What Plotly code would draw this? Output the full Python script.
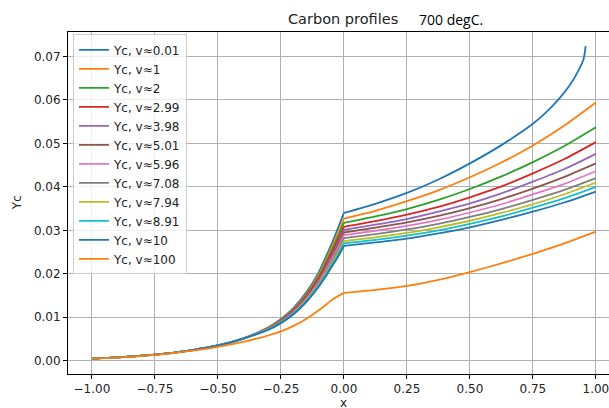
import plotly.graph_objects as go

# ---- data ----
X_LEFT = [-1.0, -0.9, -0.8, -0.7, -0.6, -0.5, -0.4, -0.3, -0.25, -0.2, -0.15, -0.1, -0.075, -0.05, -0.025, 0.0]
X_RIGHT = [0.0, 0.125, 0.25, 0.375, 0.5, 0.625, 0.75, 0.875, 1.0]
X_RIGHT_V001 = [0.0, 0.125, 0.25, 0.375, 0.5, 0.625, 0.75, 0.8, 0.85, 0.9, 0.93, 0.95, 0.955, 0.958, 0.959]

LABELS = ["Yc, v≈0.01", "Yc, v≈1", "Yc, v≈2", "Yc, v≈2.99", "Yc, v≈3.98", "Yc, v≈5.01",
          "Yc, v≈5.96", "Yc, v≈7.08", "Yc, v≈7.94", "Yc, v≈8.91", "Yc, v≈10", "Yc, v≈100"]

COLORS = ["#1f77b4", "#ff7f0e", "#2ca02c", "#d62728", "#9467bd", "#8c564b",
          "#e377c2", "#7f7f7f", "#bcbd22", "#17becf", "#1f77b4", "#ff7f0e"]

TAIL = [0.00050, 0.00075, 0.00115, 0.00170, 0.00245, 0.00350, 0.00510]

Y_V001_L = TAIL + [0.00770, 0.00958, 0.01216, 0.01566, 0.02033, 0.02345, 0.02671, 0.03029, 0.0340]
Y_V001_R = [0.0340, 0.0361, 0.0386, 0.0417, 0.0454, 0.0496, 0.0545, 0.0570, 0.0600, 0.0637, 0.0667, 0.0692, 0.0705, 0.0718, 0.0724]

Y_V1_L = TAIL + [0.00760, 0.00943, 0.01191, 0.01528, 0.01977, 0.02273, 0.02584, 0.02920, 0.0327]
Y_V1_R = [0.0327, 0.0345, 0.0367, 0.0392, 0.0422, 0.0456, 0.0495, 0.0541, 0.0594]

Y_V2_L = TAIL + [0.00753, 0.00931, 0.01172, 0.01500, 0.01934, 0.02217, 0.02515, 0.02835, 0.0317]
Y_V2_R = [0.0317, 0.0332, 0.0349, 0.0370, 0.0395, 0.0424, 0.0457, 0.0494, 0.0537]

Y_V299_L = TAIL + [0.00746, 0.00920, 0.01155, 0.01473, 0.01895, 0.02166, 0.02455, 0.02760, 0.0308]
Y_V299_R = [0.0308, 0.0321, 0.0336, 0.0354, 0.0376, 0.0401, 0.0431, 0.0464, 0.0503]

Y_V398_L = TAIL + [0.00740, 0.00910, 0.01140, 0.01450, 0.01860, 0.02120, 0.02400, 0.02690, 0.0301]
Y_V398_R = [0.0301, 0.0313, 0.0326, 0.0343, 0.0362, 0.0385, 0.0412, 0.0441, 0.0476]

Y_V501_L = TAIL + [0.00736, 0.00903, 0.01129, 0.01433, 0.01834, 0.02086, 0.02359, 0.02639, 0.0295]
Y_V501_R = [0.0295, 0.0306, 0.0318, 0.0333, 0.0351, 0.0372, 0.0396, 0.0423, 0.0454]

Y_V596_L = TAIL + [0.00731, 0.00895, 0.01117, 0.01415, 0.01808, 0.02052, 0.02318, 0.02588, 0.0289]
Y_V596_R = [0.0289, 0.0299, 0.0310, 0.0324, 0.0341, 0.0360, 0.0383, 0.0407, 0.0436]

Y_V708_L = TAIL + [0.00725, 0.00885, 0.01102, 0.01392, 0.01773, 0.02006, 0.02263, 0.02518, 0.0282]
Y_V708_R = [0.0282, 0.0291, 0.0302, 0.0315, 0.0331, 0.0349, 0.0370, 0.0393, 0.0420]

Y_V794_L = TAIL + [0.00721, 0.00878, 0.01090, 0.01375, 0.01747, 0.01972, 0.02222, 0.02467, 0.0275]
Y_V794_R = [0.0275, 0.0284, 0.0294, 0.0307, 0.0322, 0.0340, 0.0360, 0.0383, 0.0410]

Y_V891_L = TAIL + [0.00716, 0.00871, 0.01079, 0.01357, 0.01721, 0.01938, 0.02182, 0.02416, 0.0270]
Y_V891_R = [0.0270, 0.0278, 0.0288, 0.0300, 0.0315, 0.0332, 0.0352, 0.0374, 0.0400]

Y_V10_L = TAIL + [0.00713, 0.00865, 0.01070, 0.01343, 0.01700, 0.01912, 0.02148, 0.02375, 0.0264]
Y_V10_R = [0.0264, 0.0272, 0.0281, 0.0293, 0.0307, 0.0324, 0.0343, 0.0364, 0.0389]

Y_V100_L = [0.00048, 0.00072, 0.00108, 0.00160, 0.00230, 0.00320, 0.00435, 0.00580,
            0.00675, 0.00800, 0.00960, 0.01160, 0.01270, 0.01390, 0.01480, 0.0156]
Y_V100_R = [0.0156, 0.0163, 0.0172, 0.0186, 0.0204, 0.0224, 0.0246, 0.0270, 0.0297]

SERIES = [
    (Y_V001_L, Y_V001_R, X_RIGHT_V001),
    (Y_V1_L, Y_V1_R, X_RIGHT),
    (Y_V2_L, Y_V2_R, X_RIGHT),
    (Y_V299_L, Y_V299_R, X_RIGHT),
    (Y_V398_L, Y_V398_R, X_RIGHT),
    (Y_V501_L, Y_V501_R, X_RIGHT),
    (Y_V596_L, Y_V596_R, X_RIGHT),
    (Y_V708_L, Y_V708_R, X_RIGHT),
    (Y_V794_L, Y_V794_R, X_RIGHT),
    (Y_V891_L, Y_V891_R, X_RIGHT),
    (Y_V10_L, Y_V10_R, X_RIGHT),
    (Y_V100_L, Y_V100_R, X_RIGHT),
]

X_TICKS = [-1.0, -0.75, -0.5, -0.25, 0.0, 0.25, 0.5, 0.75, 1.0]
Y_TICKS = [0.0, 0.01, 0.02, 0.03, 0.04, 0.05, 0.06, 0.07]

FONT = "DejaVu Sans"

fig = go.Figure()
for i, ((yl, yr, xr), name, col) in enumerate(zip(SERIES, LABELS, COLORS)):
    grp = "g%d" % i
    fig.add_trace(go.Scatter(
        x=X_LEFT, y=yl, mode="lines", name=name, legendgroup=grp,
        line=dict(color=col, width=1.8, shape="spline", smoothing=0.6),
    ))
    fig.add_trace(go.Scatter(
        x=xr, y=yr, mode="lines", name=name, legendgroup=grp, showlegend=False,
        line=dict(color=col, width=1.8, shape="spline", smoothing=0.6),
    ))

axis_common = dict(
    showgrid=True, gridcolor="#b0b0b0", gridwidth=1,
    showline=True, linecolor="#000000", linewidth=1,
    ticks="outside", ticklen=4, tickwidth=1, tickcolor="#000000",
    zeroline=False, tickfont=dict(family=FONT, size=12, color="#222222"),
    ticklabeloverflow="allow",
)

fig.update_layout(
    width=609, height=408,
    margin=dict(l=68, r=0, t=32, b=34, autoexpand=False),
    paper_bgcolor="white", plot_bgcolor="white",
    font=dict(family=FONT, size=12, color="#222222"),
    xaxis=dict(range=[-1.095, 1.052], tickvals=X_TICKS, tickformat=".2f",
               mirror=True, **axis_common),
    yaxis=dict(range=[-0.00306, 0.07563], tickvals=Y_TICKS, tickformat=".2f",
               mirror=False, **axis_common),
    legend=dict(
        x=0.0092, y=0.993, xanchor="left", yanchor="top",
        bgcolor="rgba(255,255,255,0.8)", bordercolor="#cccccc", borderwidth=1,
        font=dict(family=FONT, size=12, color="#222222"),
        itemwidth=30, tracegroupgap=0,
    ),
    showlegend=True,
    annotations=[
        dict(text="Carbon profiles", xref="paper", yref="paper", x=0.509, y=1.038,
             xanchor="center", yanchor="middle", showarrow=False,
             font=dict(family=FONT, size=14.5, color="#222222")),
        dict(text="700 degC.", xref="paper", yref="paper", x=0.645, y=1.038,
             xanchor="left", yanchor="middle", showarrow=False,
             font=dict(family="Open Sans", size=14, color="#000000")),
        dict(text="Yc", xref="paper", yref="paper", x=-0.094, y=0.5,
             xanchor="center", yanchor="middle", textangle=-90, showarrow=False,
             font=dict(family=FONT, size=12, color="#222222")),
        dict(text="x", xref="paper", yref="paper", x=0.509, y=-0.085,
             xanchor="center", yanchor="middle", showarrow=False,
             font=dict(family=FONT, size=12, color="#222222")),
    ],
)

fig.write_html("out.html")
